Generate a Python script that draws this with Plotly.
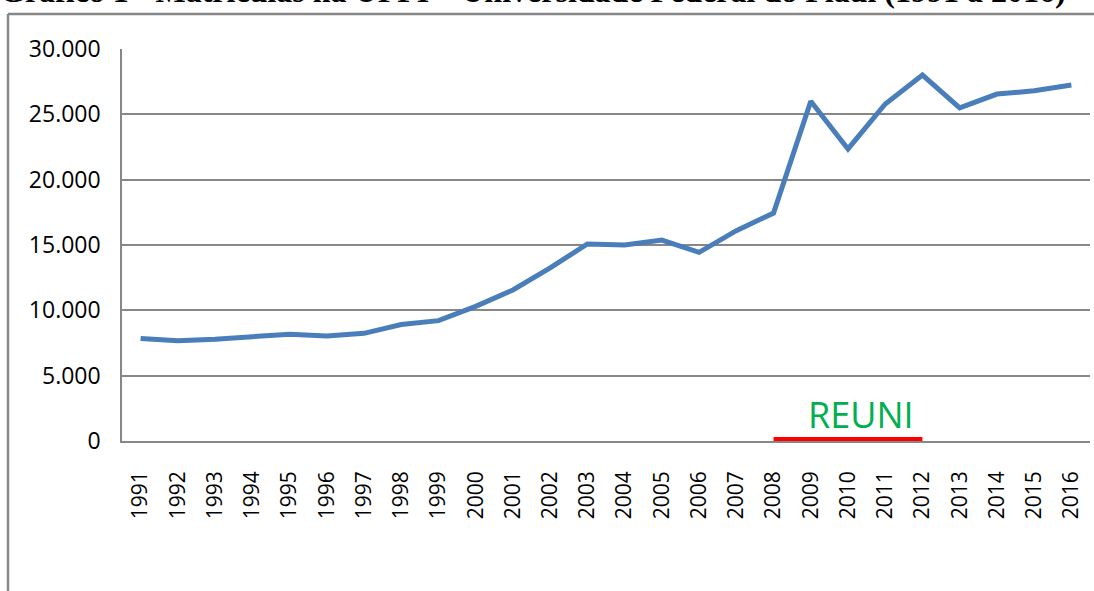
import plotly.graph_objects as go

years = [str(y) for y in range(1991, 2017)]
matriculas = [7840, 7670, 7790, 7990, 8170, 8040, 8240, 8910, 9210, 10300,
              11560, 13250, 15080, 15000, 15380, 14440, 16100, 17440, 26000, 22350,
              25790, 28010, 25500, 26550, 26800, 27240]
reuni_years = ["2008", "2012"]
reuni_values = [0, 0]
title_text = "Gráfico 1 - Matrículas na UFPI – Universidade Federal do Piauí (1991 a 2016)"
y_ticks = [0, 5000, 10000, 15000, 20000, 25000, 30000]

W, H = 1094, 591
# plot area in page pixels: left 122, right 1090, top 49, bottom 441
ML, MT = 122, 49
MR = W - 1090
MB = H - 441
PW = W - ML - MR
PH = H - MT - MB

def px_x(p):
    return (p - ML) / PW

def px_y(p):
    return (H - MB - p) / PH

GRID = "#878787"

fig = go.Figure()
fig.add_trace(go.Scatter(x=years, y=matriculas, mode="lines",
                         line=dict(color="#4A7EBB", width=5), showlegend=False,
                         hoverinfo="skip"))
fig.add_trace(go.Scatter(x=reuni_years, y=reuni_values, mode="lines",
                         line=dict(color="#FF0000", width=8), showlegend=False,
                         hoverinfo="skip", cliponaxis=False))

fig.update_layout(
    width=W, height=H,
    margin=dict(l=ML, r=MR, t=MT, b=MB),
    paper_bgcolor="white", plot_bgcolor="white",
    separators=",.",
    font=dict(family="Open Sans", color="black"),
    xaxis=dict(type="category", range=[-0.5, 25.5], showgrid=False,
               showline=True, linecolor=GRID, linewidth=1.5,
               tickangle=-90, tickfont=dict(size=21, family="Open Sans"),
               ticks="", ticklabelstandoff=20, zeroline=False),
    yaxis=dict(range=[0, 30000], tickvals=y_ticks, tickformat=",d",
               showgrid=True, gridcolor=GRID, gridwidth=1.5,
               showline=True, linecolor=GRID, linewidth=1.5,
               tickfont=dict(size=23, family="Open Sans"),
               ticks="", ticklabelstandoff=15, zeroline=False),
    shapes=[
        dict(type="line", xref="paper", yref="paper",
             x0=px_x(8), x1=px_x(1094), y0=px_y(14), y1=px_y(14),
             line=dict(color=GRID, width=2.5), layer="above"),
        dict(type="line", xref="paper", yref="paper",
             x0=px_x(8), x1=px_x(8), y0=px_y(14), y1=px_y(591),
             line=dict(color=GRID, width=2.5), layer="above"),
    ],
    annotations=[
        dict(text="<b>" + title_text + "</b>", xref="paper", yref="paper",
             x=px_x(533), y=px_y(11.5), xanchor="center", yanchor="bottom",
             showarrow=False,
             font=dict(family="Liberation Serif", size=32, color="black")),
        dict(text="REUNI", xref="paper", yref="paper",
             x=px_x(861), y=px_y(414), xanchor="center", yanchor="middle",
             showarrow=False,
             font=dict(family="Open Sans", size=36, color="#00B050")),
    ],
)

fig.write_html("out.html", config={"displayModeBar": False},
               post_script="document.body.style.margin='0';document.body.style.overflow='hidden';")
